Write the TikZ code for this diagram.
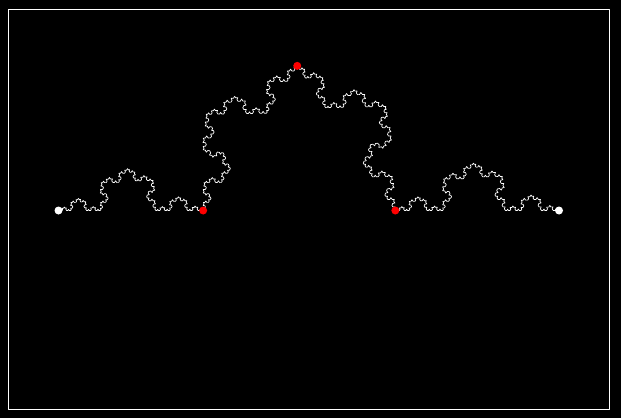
\documentclass[tikz,border=0pt]{standalone}
\usetikzlibrary{calc}
% generator: first knee, peak, last knee (fractions of a segment)
\newcommand{\kA}{0.289}
\newcommand{\kB}{0.477}
\newcommand{\kH}{0.289}
\newcommand{\kC}{0.673}
\newcommand{\kochpts}{}
\newcommand{\kochgen}[5]{%
  \ifnum#1=0
    \xdef\kochpts{\kochpts -- (#4,#5)}%
  \else
    \begingroup
      \pgfmathsetmacro{\kdx}{#4-#2}%
      \pgfmathsetmacro{\kdy}{#5-#3}%
      \pgfmathsetmacro{\kax}{#2+\kA*\kdx}%
      \pgfmathsetmacro{\kay}{#3+\kA*\kdy}%
      \pgfmathsetmacro{\kbx}{#2+\kB*\kdx-\kH*\kdy}%
      \pgfmathsetmacro{\kby}{#3+\kB*\kdy+\kH*\kdx}%
      \pgfmathsetmacro{\kcx}{#2+\kC*\kdx}%
      \pgfmathsetmacro{\kcy}{#3+\kC*\kdy}%
      \pgfmathtruncatemacro{\kd}{#1-1}%
      \edef\kochnext{%
        \noexpand\kochgen{\kd}{#2}{#3}{\kax}{\kay}%
        \noexpand\kochgen{\kd}{\kax}{\kay}{\kbx}{\kby}%
        \noexpand\kochgen{\kd}{\kbx}{\kby}{\kcx}{\kcy}%
        \noexpand\kochgen{\kd}{\kcx}{\kcy}{#4}{#5}}%
      \kochnext
    \endgroup
  \fi}

\begin{document}
\begin{tikzpicture}[
  x=1bp, y=1bp, line cap=round, line join=round,
  kochline/.style={white!85, line width=0.7pt},
  frameline/.style={white, line width=1.1pt},
  enddot/.style={fill=white},
  knotdot/.style={fill=red},
]

\fill[black] (0,0) rectangle (621,418);
\path[use as bounding box] (0,0) rectangle (621,418);

% Frame
\draw[frameline] (8.5,8.5) rectangle (609.5,408.5);

% Curve
\coordinate (start) at (58.5,207.5);
\coordinate (stop) at (559,207.5);
\kochgen{5}{58.5}{207.5}{559}{207.5}
\draw[kochline] (start) \kochpts;

% Knots
\coordinate (knotA) at ($(start)!\kA!(stop)$);
\coordinate (knotB) at ($(start)!\kB!(stop)+(0,{\kH*500.5})$);
\coordinate (knotC) at ($(start)!\kC!(stop)$);
\foreach \k in {knotA,knotB,knotC} {
  \fill[knotdot] (\k) circle (4);
}
\fill[enddot] (start) circle (4);
\fill[enddot] (stop) circle (4);

\end{tikzpicture}
\end{document}
